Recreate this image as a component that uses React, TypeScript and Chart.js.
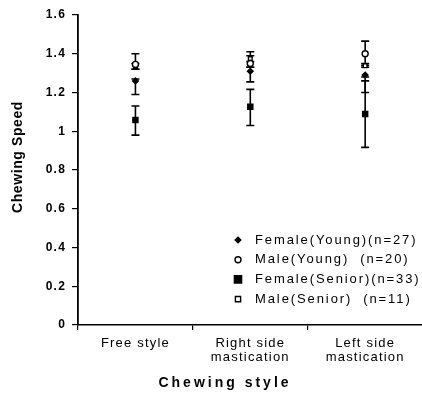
import React, { useEffect, useRef } from 'react';
import { Chart, registerables } from 'chart.js';

Chart.register(...registerables);

const categories: string[][] = [['Free style'], ['Right side', 'mastication'], ['Left side', 'mastication']];
const seriesNames = ['Female(Young)(n=27)', 'Male(Young)  (n=20)', 'Female(Senior)(n=33)', 'Male(Senior)  (n=11)'];

const femaleYoung = [1.26, 1.31, 1.29];
const femaleYoungLow = [1.19, 1.255, 1.2];
const femaleYoungHigh = [1.27, 1.33, 1.28];

const maleYoung = [1.345, 1.35, 1.4];
const maleYoungLow = [1.32, 1.33, 1.34];
const maleYoungHigh = [1.4, 1.41, 1.465];

const femaleSenior = [1.058, 1.127, 1.089];
const femaleSeniorLow = [0.98, 1.03, 0.917];
const femaleSeniorHigh = [1.13, 1.216, 1.26];

const maleSenior = [1.335, 1.375, 1.338];
const maleSeniorLow = [1.32, 1.36, 1.33];
const maleSeniorHigh = [1.35, 1.39, 1.35];

const yMin = 0;
const yMax = 1.6;
const yStep = 0.2;

const xTitle = 'Chewing style';
const yTitle = 'Chewing Speed';

const FONT = "'Liberation Sans', Arial, sans-serif";

const lows = [femaleYoungLow, maleYoungLow, femaleSeniorLow, maleSeniorLow];
const highs = [femaleYoungHigh, maleYoungHigh, femaleSeniorHigh, maleSeniorHigh];
const markerStyles: any[] = [
  { pointStyle: 'rectRot', radius: 2.8, bg: '#000' },
  { pointStyle: 'circle', radius: 3, bg: '#fff' },
  { pointStyle: 'rect', radius: 3.6, bg: '#000' },
  { pointStyle: 'rect', radius: 2.6, bg: '#fff' },
];

const errorBarPlugin = {
  id: 'errorBars',
  beforeDatasetsDraw(chart: any) {
    const ctx = chart.ctx;
    const x = chart.scales.x;
    const y = chart.scales.y;
    ctx.save();
    ctx.strokeStyle = '#000';
    ctx.lineWidth = 1.6;
    lows.forEach((lowArr, s) => {
      lowArr.forEach((lo, i) => {
        const hi = highs[s][i];
        const px = x.getPixelForValue(i);
        const py1 = y.getPixelForValue(lo);
        const py2 = y.getPixelForValue(hi);
        ctx.beginPath();
        ctx.moveTo(px, py1);
        ctx.lineTo(px, py2);
        ctx.moveTo(px - 4, py1);
        ctx.lineTo(px + 4, py1);
        ctx.moveTo(px - 4, py2);
        ctx.lineTo(px + 4, py2);
        ctx.stroke();
      });
    });
    ctx.restore();
  },
};

function drawMarker(ctx: CanvasRenderingContext2D, style: string, r: number, x: number, y: number) {
  ctx.beginPath();
  if (style === 'circle') {
    ctx.arc(x, y, r, 0, Math.PI * 2);
  } else if (style === 'rectRot') {
    ctx.moveTo(x, y - r);
    ctx.lineTo(x + r, y);
    ctx.lineTo(x, y + r);
    ctx.lineTo(x - r, y);
    ctx.closePath();
  } else {
    ctx.rect(x - r, y - r, 2 * r, 2 * r);
  }
  ctx.fill();
  ctx.stroke();
}

const decorPlugin = {
  id: 'decor',
  beforeDraw(chart: any) {
    chart.ctx.letterSpacing = '1.2px';
  },
  afterDraw(chart: any) {
    const ctx = chart.ctx;
    ctx.save();
    // legend
    ctx.letterSpacing = '1.9px';
    ctx.font = `13px ${FONT}`;
    ctx.fillStyle = '#000';
    ctx.textBaseline = 'middle';
    ctx.textAlign = 'left';
    const lx = 238;
    const tx = 255;
    const y0 = 240;
    const dy = 19.7;
    seriesNames.forEach((name, s) => {
      const yy = y0 + dy * s;
      const m = markerStyles[s];
      ctx.save();
      ctx.fillStyle = m.bg;
      ctx.strokeStyle = '#000';
      ctx.lineWidth = 1.4;
      drawMarker(ctx, m.pointStyle, m.radius, lx, yy);
      ctx.restore();
      ctx.fillStyle = '#000';
      ctx.fillText(name, tx, yy);
    });
    // axis titles
    ctx.font = `bold 14px ${FONT}`;
    ctx.letterSpacing = '3px';
    ctx.textAlign = 'center';
    ctx.fillText(xTitle, 225, 383);
    ctx.save();
    ctx.translate(18, 157);
    ctx.rotate(-Math.PI / 2);
    ctx.letterSpacing = '0.6px';
    ctx.font = `bold 14px ${FONT}`;
    ctx.fillText(yTitle, 0, 0);
    ctx.restore();
    ctx.restore();
  },
};

export default function App() {
  const ref = useRef<HTMLCanvasElement>(null);
  useEffect(() => {
    if (!ref.current) return;
    const values = [femaleYoung, maleYoung, femaleSenior, maleSenior];
    const chart = new Chart(ref.current, {
      type: 'line',
      data: {
        labels: categories as any,
        datasets: values.map((v, s) => ({
          label: seriesNames[s],
          data: v,
          showLine: false,
          pointStyle: markerStyles[s].pointStyle,
          pointRadius: markerStyles[s].radius,
          pointBackgroundColor: markerStyles[s].bg,
          pointBorderColor: '#000',
          pointBorderWidth: 1.4,
          borderColor: '#000',
        })),
      },
      options: {
        animation: false,
        responsive: false,
        maintainAspectRatio: false,
        layout: { padding: { top: 15, left: 0, right: 0, bottom: 0 } },
        plugins: { legend: { display: false }, tooltip: { enabled: false } },
        scales: {
          x: {
            type: 'category',
            offset: true,
            grid: { display: true, drawOnChartArea: false, offset: true, tickLength: 5, color: '#000', lineWidth: 1.2 },
            border: { display: true, color: '#000', width: 1.6 },
            ticks: { color: '#000', font: { family: FONT, size: 13, lineHeight: 1.1 }, padding: 6, maxRotation: 0, autoSkip: false },
            afterFit(scale: any) {
              scale.height = 80;
            },
          },
          y: {
            type: 'linear',
            min: yMin,
            max: yMax,
            ticks: {
              stepSize: yStep,
              color: '#000',
              font: { family: FONT, size: 12, weight: 'bold' },
              padding: 6,
              callback: (v: any) => String(Number(Number(v).toFixed(1))),
            },
            grid: { display: true, drawOnChartArea: false, tickLength: 6, color: '#000', lineWidth: 1.2 },
            border: { display: true, color: '#000', width: 1.8 },
            afterFit(scale: any) {
              scale.width = 78;
            },
          },
        },
      },
      plugins: [errorBarPlugin, decorPlugin],
    });
    return () => chart.destroy();
  }, []);
  return (
    <div style={{ position: 'fixed', left: 0, top: 0, width: 422, height: 405, overflow: 'hidden', background: '#fff' }}>
      <canvas ref={ref} width={428} height={405} style={{ width: 428, height: 405, display: 'block' }} />
    </div>
  );
}
